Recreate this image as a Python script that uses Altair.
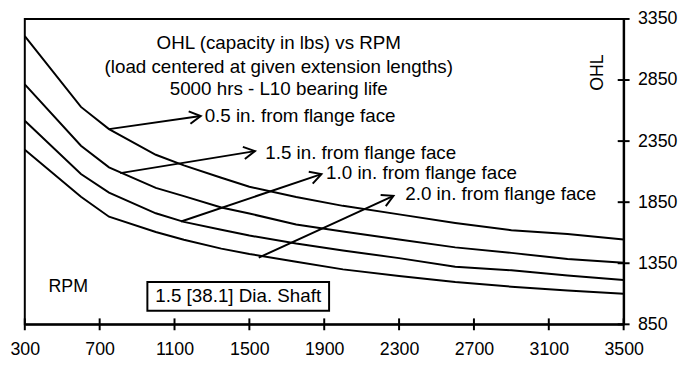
import math
import altair as alt
import pandas as pd

# ---- data ----
rpm = [300, 600, 750, 1000, 1150, 1350, 1500, 1750, 2000, 2300, 2600, 2900, 3200, 3500]
ohl_a = [3210, 2630, 2448, 2238, 2151, 2050, 1977, 1892, 1820, 1750, 1680, 1620, 1590, 1545]
ohl_b = [2815, 2312, 2135, 1967, 1900, 1806, 1757, 1668, 1610, 1545, 1480, 1435, 1385, 1355]
ohl_c = [2517, 2080, 1928, 1759, 1689, 1624, 1577, 1511, 1454, 1392, 1322, 1292, 1250, 1213]
ohl_d = [2280, 1895, 1731, 1606, 1542, 1470, 1426, 1362, 1300, 1246, 1196, 1158, 1127, 1101]

x_ticks = [300, 700, 1100, 1500, 1900, 2300, 2700, 3100, 3500]
y_ticks = [850, 1350, 1850, 2350, 2850, 3350]

title_lines = ["OHL (capacity in lbs) vs RPM",
               "(load centered at given extension lengths)",
               "5000 hrs - L10 bearing life"]
title_rpm = [1657, 1657, 1657]
title_ohl = [3154, 2960, 2776]

label_text = ["0.5 in. from flange face", "1.5 in. from flange face",
              "1.0 in. from flange face", "2.0 in. from flange face"]
label_rpm = [1261, 1585, 1910, 2333]
label_ohl = [2556, 2252, 2086, 1914]

arrow_rpm0 = [750, 810, 1135, 1550]
arrow_ohl0 = [2448, 2088, 1692, 1396]
arrow_rpm1 = [1240, 1530, 1885, 2270]
arrow_ohl1 = [2556, 2268, 2080, 1902]

box_text = "1.5 [38.1] Dia. Shaft"
box_rpm = [955, 1926]
box_ohl = [962, 1197]

# ---- layout ----
W, H = 606, 309
FONT = "Liberation Sans, Arial, sans-serif"
FS = 18
FS_NOTE = 19
XD = [300, 3500]
YD = [850, 3350]

xs = alt.Scale(domain=XD, nice=False, zero=False)
ys = alt.Scale(domain=YD, nice=False, zero=False)
kx = W / (XD[1] - XD[0])
ky = H / (YD[1] - YD[0])

rows = []
for name, vals in [("a", ohl_a), ("b", ohl_b), ("c", ohl_c), ("d", ohl_d)]:
    for r, v in zip(rpm, vals):
        rows.append({"series": name, "rpm": r, "ohl": v})
curves = pd.DataFrame(rows)

common = dict(title=None, domainColor="black", domainWidth=2, ticks=False, grid=False,
              labelFont=FONT, labelFontSize=FS, labelColor="black",
              labelFlush=False, labelOverlap=False, labelBound=False, format="d")
x_axis = alt.Axis(values=x_ticks, orient="bottom", labelPadding=17, **common)
y_axis = alt.Axis(values=y_ticks, orient="right", labelPadding=14, **common)

lines = alt.Chart(curves).mark_line(color="black", strokeWidth=2).encode(
    x=alt.X("rpm:Q", scale=xs, axis=x_axis),
    y=alt.Y("ohl:Q", scale=ys, axis=y_axis),
    detail="series:N",
)

# cross ticks on the axes, drawn as short stroked symbols centred on the axis line
xt = alt.Chart(pd.DataFrame({"tx": x_ticks, "ty": [YD[0]] * len(x_ticks)})).mark_point(
    shape="M0,-1L0,1", filled=False, stroke="black", strokeWidth=2, size=144, opacity=1
).encode(x=alt.X("tx:Q", scale=xs), y=alt.Y("ty:Q", scale=ys))
yt = alt.Chart(pd.DataFrame({"ty": y_ticks, "tx": [XD[1]] * len(y_ticks)})).mark_point(
    shape="M-1,0L1,0", filled=False, stroke="black", strokeWidth=2, size=144, opacity=1
).encode(x=alt.X("tx:Q", scale=xs), y=alt.Y("ty:Q", scale=ys))

# arrows
angles = []
for r0, o0, r1, o1 in zip(arrow_rpm0, arrow_ohl0, arrow_rpm1, arrow_ohl1):
    dx = (r1 - r0) * kx
    dy = -(o1 - o0) * ky
    angles.append(math.degrees(math.atan2(dy, dx)) % 360)
arrows = pd.DataFrame({"r0": arrow_rpm0, "o0": arrow_ohl0, "r1": arrow_rpm1,
                       "o1": arrow_ohl1, "ang": angles})
shafts = alt.Chart(arrows).mark_rule(color="black", strokeWidth=2).encode(
    x=alt.X("r0:Q", scale=xs), y=alt.Y("o0:Q", scale=ys),
    x2="r1:Q", y2="o1:Q")
heads = alt.Chart(arrows).mark_point(
    shape="M-1,-0.55L0,0L-1,0.55", filled=False, stroke="black", strokeWidth=2,
    size=520, opacity=1
).encode(x=alt.X("r1:Q", scale=xs), y=alt.Y("o1:Q", scale=ys),
         angle=alt.Angle("ang:Q", scale=None))

titles = alt.Chart(pd.DataFrame({"t": title_lines, "r": title_rpm, "o": title_ohl})).mark_text(
    font=FONT, fontSize=FS_NOTE, color="black", align="center", baseline="middle"
).encode(x=alt.X("r:Q", scale=xs), y=alt.Y("o:Q", scale=ys), text="t:N")

labels = alt.Chart(pd.DataFrame({"t": label_text, "r": label_rpm, "o": label_ohl})).mark_text(
    font=FONT, fontSize=FS_NOTE, color="black", align="left", baseline="middle"
).encode(x=alt.X("r:Q", scale=xs), y=alt.Y("o:Q", scale=ys), text="t:N")

ohl_lbl = alt.Chart(pd.DataFrame({"t": ["OHL"], "r": [3363], "o": [2911]})).mark_text(
    font=FONT, fontSize=FS, color="black", align="center", baseline="middle", angle=270
).encode(x=alt.X("r:Q", scale=xs), y=alt.Y("o:Q", scale=ys), text="t:N")

rpm_lbl = alt.Chart(pd.DataFrame({"t": ["RPM"], "r": [532], "o": [1156]})).mark_text(
    font=FONT, fontSize=FS, color="black", align="center", baseline="middle"
).encode(x=alt.X("r:Q", scale=xs), y=alt.Y("o:Q", scale=ys), text="t:N")

box = alt.Chart(pd.DataFrame({"r0": [box_rpm[0]], "r1": [box_rpm[1]],
                              "o0": [box_ohl[0]], "o1": [box_ohl[1]]})).mark_rect(
    fill="white", stroke="black", strokeWidth=2
).encode(x=alt.X("r0:Q", scale=xs), x2="r1:Q", y=alt.Y("o0:Q", scale=ys), y2="o1:Q")
box_lbl = alt.Chart(pd.DataFrame({"t": [box_text], "r": [sum(box_rpm) / 2],
                                  "o": [sum(box_ohl) / 2]})).mark_text(
    font=FONT, fontSize=FS_NOTE, color="black", align="center", baseline="middle"
).encode(x=alt.X("r:Q", scale=xs), y=alt.Y("o:Q", scale=ys), text="t:N")

chart = alt.layer(lines, box, shafts, heads, titles, labels, ohl_lbl, rpm_lbl,
                  box_lbl, xt, yt).properties(
    width=W, height=H,
    autosize=alt.AutoSizeParams(type="none"),
    padding={"left": 17, "top": 9, "right": 55, "bottom": 34},
    background="white",
).configure_view(stroke="black", strokeWidth=2)

chart.save("out.html", embed_options={"renderer": "svg", "actions": False})
